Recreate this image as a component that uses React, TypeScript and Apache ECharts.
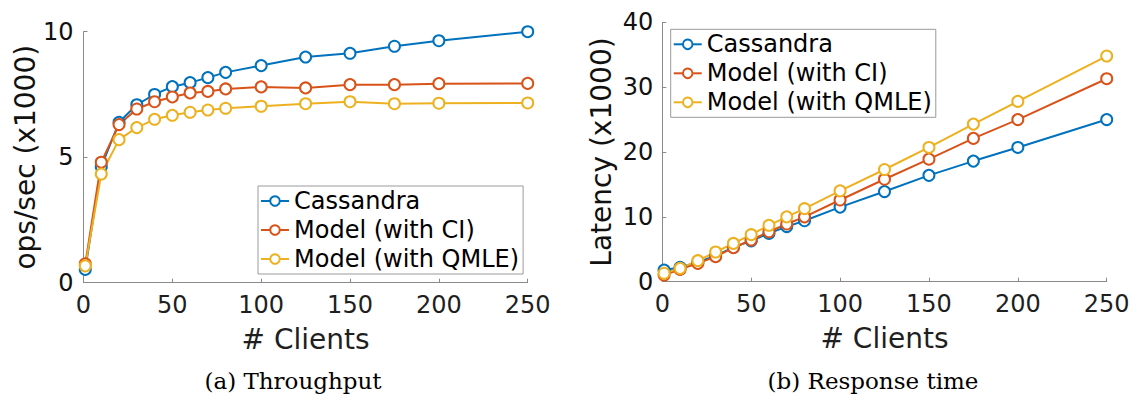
import React, { useEffect, useRef } from "react";
import * as echarts from "echarts";

const clients = [1, 10, 20, 30, 40, 50, 60, 70, 80, 100, 125, 150, 175, 200, 250];
const seriesNames = ["Cassandra", "Model (with CI)", "Model (with QMLE)"];
const colors = ["#0072BD", "#D95319", "#EDB120"];

// Throughput (ops/sec x1000)
const thrCassandra = [0.53, 4.62, 6.39, 7.09, 7.5, 7.81, 7.97, 8.17, 8.38, 8.65, 8.99, 9.14, 9.42, 9.64, 10.0];
const thrModelCI = [0.75, 4.8, 6.3, 6.92, 7.21, 7.4, 7.56, 7.62, 7.72, 7.8, 7.76, 7.89, 7.89, 7.93, 7.94];
const thrModelQMLE = [0.67, 4.33, 5.7, 6.18, 6.51, 6.67, 6.79, 6.88, 6.95, 7.03, 7.13, 7.21, 7.13, 7.15, 7.16];

// Latency (x1000)
const latCassandra = [1.8, 2.2, 3.0, 4.0, 5.3, 6.3, 7.45, 8.5, 9.4, 11.5, 13.9, 16.4, 18.6, 20.7, 25.0];
const latModelCI = [1.03, 1.9, 2.83, 3.86, 5.24, 6.43, 7.7, 8.9, 10.0, 12.6, 15.8, 18.9, 22.1, 25.0, 31.3];
const latModelQMLE = [1.3, 2.06, 3.24, 4.58, 5.9, 7.25, 8.7, 10.0, 11.26, 14.0, 17.3, 20.7, 24.3, 27.8, 34.8];

const xTicks = { min: 0, max: 250, interval: 50 };
const yThrTicks = { min: 0, max: 10, interval: 5 };
const yLatTicks = { min: 0, max: 40, interval: 10 };

const FONT = "DejaVu Sans";
const AXIS_COLOR = "#8a8a8a";
const TEXT_COLOR = "#1f1f1f";

function makeX(gridIndex: number) {
  return {
    type: "value" as const,
    gridIndex,
    min: xTicks.min,
    max: xTicks.max,
    interval: xTicks.interval,
    splitLine: { show: false },
    axisLine: { show: true, lineStyle: { color: AXIS_COLOR, width: 1 } },
    axisTick: { show: true, inside: true, length: 4, lineStyle: { color: AXIS_COLOR } },
    axisLabel: { fontSize: 24, color: TEXT_COLOR, fontFamily: FONT, margin: 10 },
    name: "# Clients",
    nameLocation: "middle" as const,
    nameGap: 43,
    nameTextStyle: { fontSize: 28, color: TEXT_COLOR, fontFamily: FONT },
  };
}

function makeY(gridIndex: number, ticks: any, name: string, nameGap: number, margin: number) {
  return {
    type: "value" as const,
    gridIndex,
    min: ticks.min,
    max: ticks.max,
    interval: ticks.interval,
    splitLine: { show: false },
    axisLine: { show: true, lineStyle: { color: AXIS_COLOR, width: 1 } },
    axisTick: { show: true, inside: true, length: 4, lineStyle: { color: AXIS_COLOR } },
    axisLabel: { fontSize: 24, color: "#111", fontFamily: FONT, margin },
    name,
    nameLocation: "middle" as const,
    nameGap,
    nameTextStyle: { fontSize: 28, color: "#111", fontFamily: FONT },
  };
}

function makeSeries(name: string, values: number[], color: string, idx: number) {
  return {
    type: "line" as const,
    name,
    xAxisIndex: idx,
    yAxisIndex: idx,
    data: clients.map((c, i) => [c, values[i]]),
    symbol: "emptyCircle",
    symbolSize: 11,
    showAllSymbol: true,
    lineStyle: { color, width: 2 },
    itemStyle: { color, borderColor: color, borderWidth: 2 },
    emphasis: { disabled: true },
  };
}

function makeLegend(left: number, top: number) {
  return {
    data: seriesNames,
    orient: "vertical" as const,
    left,
    top,
    itemWidth: 28,
    itemHeight: 12,
    itemGap: 5,
    padding: [3, 4, 3, 2],
    borderColor: "#9a9a9a",
    borderWidth: 1,
    borderRadius: 0,
    backgroundColor: "#fff",
    selectedMode: false,
    textStyle: { fontSize: 24, lineHeight: 24, color: "#000", fontFamily: FONT },
  };
}

export default function App() {
  const ref = useRef<HTMLDivElement>(null);
  useEffect(() => {
    if (!ref.current) return;
    const chart = echarts.init(ref.current, undefined, { renderer: "svg" });
    chart.setOption({
      animation: false,
      backgroundColor: "#fff",
      grid: [
        { left: 83.5, top: 31.7, width: 444.2, height: 251, containLabel: false },
        { left: 662.3, top: 22.3, width: 444.4, height: 259.4, containLabel: false },
      ],
      xAxis: [makeX(0), makeX(1)],
      yAxis: [
        makeY(0, yThrTicks, "ops/sec (x1000)", 44, 10),
        makeY(1, yLatTicks, "Latency (x1000)", 47, 9),
      ],
      legend: [makeLegend(258, 186), makeLegend(670.7, 29.3)],
      series: [
        makeSeries(seriesNames[0], thrCassandra, colors[0], 0),
        makeSeries(seriesNames[1], thrModelCI, colors[1], 0),
        makeSeries(seriesNames[2], thrModelQMLE, colors[2], 0),
        makeSeries(seriesNames[0], latCassandra, colors[0], 1),
        makeSeries(seriesNames[1], latModelCI, colors[1], 1),
        makeSeries(seriesNames[2], latModelQMLE, colors[2], 1),
      ],
      graphic: [
        {
          type: "text",
          x: 293,
          y: 381,
          style: {
            text: "(a) Throughput",
            font: '23px "DejaVu Serif"',
            fill: "#000",
            align: "center",
            verticalAlign: "middle",
          },
        },
        {
          type: "text",
          x: 873,
          y: 381,
          style: {
            text: "(b) Response time",
            font: '23px "DejaVu Serif"',
            fill: "#000",
            align: "center",
            verticalAlign: "middle",
          },
        },
      ],
    });
    return () => chart.dispose();
  }, []);
  return (
    <div
      ref={ref}
      style={{ position: "absolute", left: 0, top: 0, width: 1138, height: 401, background: "#fff" }}
    />
  );
}
